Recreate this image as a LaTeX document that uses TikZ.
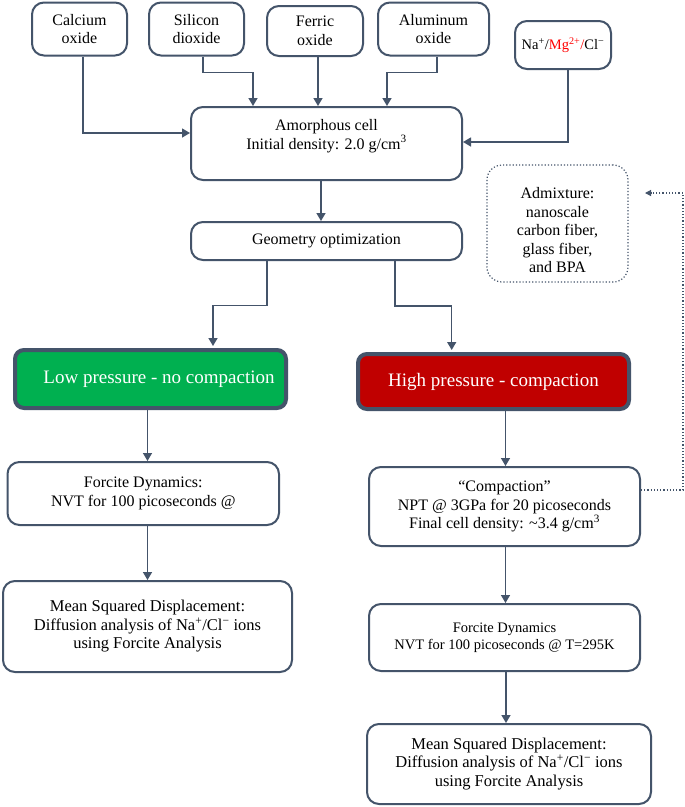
\documentclass[tikz,border=0pt]{standalone}
\usepackage{fontspec}
\setmainfont{Liberation Serif}
\usetikzlibrary{arrows.meta}
\definecolor{bc}{HTML}{44546A}
\definecolor{gr}{HTML}{00B050}
\definecolor{rd}{HTML}{C00000}
\definecolor{redtxt}{HTML}{FF0000}
\tikzset{
  box/.style={draw=bc, line width=2pt, rounded corners=12pt, fill=white, align=center,
    inner sep=0pt, font=\fontsize{16}{18.5}\selectfont},
  lbl/.style={align=center, inner sep=0pt, font=\fontsize{16}{18.5}\selectfont},
  hdr/.style={draw=bc, line width=4pt, rounded corners=9pt, text=white, inner sep=0pt,
    font=\fontsize{19}{22}\selectfont},
  conn/.style={draw=bc, line width=1.4pt, -{Triangle[length=8pt,width=9pt]}},
  dotbox/.style={draw=bc, line width=1.2pt, dotted, rounded corners=15pt},
  dotconn/.style={draw=bc, line width=1.2pt, dotted, -{Triangle[length=6pt,width=6pt]}},
}
\begin{document}
\begin{tikzpicture}[x=1pt,y=-1pt]
\fill[white] (0,0) rectangle (685,807);
\useasboundingbox (0,0) rectangle (685,807);

% top inputs
\node[box, minimum width=95pt, minimum height=53pt] (calc) at (79.5,29) {Calcium\\oxide};
\node[box, minimum width=95pt, minimum height=53pt] (sil) at (196.5,29) {Silicon\\dioxide};
\node[box, minimum width=96pt, minimum height=50pt] (fer) at (315,31) {Ferric\\oxide};
\node[box, minimum width=111pt, minimum height=53pt] (alu) at (433.5,29) {Aluminum\\oxide};
\node[box, minimum width=96pt, minimum height=48pt, font=\fontsize{14.5}{17}\selectfont] (na) at (563,45)
  {Na\textsuperscript{+}/\textcolor{redtxt}{Mg\textsuperscript{2+}/}Cl\textsuperscript{−}};

% main chain
\node[box, minimum width=271pt, minimum height=73pt,
  label={[lbl,yshift=7.5pt]center:{Amorphous cell\\Initial density: 2.0 g/cm\textsuperscript{3}}}] (amor) at (326.5,143.5) {};
\node[box, minimum width=271pt, minimum height=38pt] (geo) at (326.5,241) {Geometry optimization};

\node[dotbox, minimum width=141pt, minimum height=117pt,
  label={[lbl,yshift=-7pt]center:{Admixture:\\nanoscale\\carbon fiber,\\glass fiber,\\and BPA}}] (admix) at (557.5,223.5) {};

\node[hdr, fill=gr, minimum width=271pt, minimum height=58pt,
  label={[lbl,text=white,font=\fontsize{19}{22}\selectfont,xshift=8.5pt]center:{Low pressure - no compaction}}] (low) at (150.5,379) {};
\node[hdr, fill=rd, minimum width=271pt, minimum height=55pt] (high) at (493.5,381.5) {High pressure - compaction};

\node[box, minimum width=271.5pt, minimum height=63pt] (lfd) at (143.25,493.5)
  {Forcite Dynamics:\\NVT for 100 picoseconds @};
\node[box, minimum width=271pt, minimum height=79pt] (comp) at (504.5,506.5)
  {“Compaction”\\NPT @ 3GPa for 20 picoseconds\\Final cell density: \textasciitilde3.4 g/cm\textsuperscript{3}};

\node[box, minimum width=289pt, minimum height=91pt, font=\fontsize{16.5}{18.5}\selectfont] (lmsd) at (147.5,626.5)
  {Mean Squared Displacement:\\Diffusion analysis of Na\textsuperscript{+}/Cl\textsuperscript{−} ions\\using Forcite Analysis};
\node[box, minimum width=271pt, minimum height=67pt, font=\fontsize{14.5}{17}\selectfont] (rfd) at (504.5,637.5)
  {Forcite Dynamics\\NVT for 100 picoseconds @ T=295K};
\node[box, minimum width=284pt, minimum height=80pt, font=\fontsize{16.5}{18.5}\selectfont] (rmsd) at (509,764)
  {Mean Squared Displacement:\\Diffusion analysis of Na\textsuperscript{+}/Cl\textsuperscript{−} ions\\using Forcite Analysis};

% connectors
\draw[conn] ([xshift=3.5pt]calc.south) |- ([yshift=10.5pt]amor.west);
\draw[conn] ([xshift=6.5pt]sil.south) -- ++(0,16) -| ([xshift=-73.5pt]amor.north);
\draw[conn] ([xshift=3pt]fer.south) -- ([xshift=-8.5pt]amor.north);
\draw[conn] ([xshift=3.5pt]alu.south) -- ++(0,16) -| ([xshift=60.5pt]amor.north);
\draw[conn] ([xshift=5pt]na.south) |- ([yshift=1.5pt]amor.east);
\draw[conn] ([xshift=-5.5pt]amor.south) -- ([xshift=-5.5pt]geo.north);
\draw[conn, shorten >=2pt] ([xshift=-59.5pt]geo.south) -- ++(0,44.5) -| ([xshift=62.5pt]low.north);
\draw[conn, shorten >=2pt] ([xshift=68.5pt]geo.south) -- ++(0,45) -| ([xshift=-41.8pt]high.north);
\draw[conn] ([xshift=-3pt]low.south) -- ([xshift=4.25pt]lfd.north);
\draw[conn] ([xshift=12pt]high.south) -- ([xshift=1pt]comp.north);
\draw[conn] ([xshift=4.25pt]lfd.south) -- ([xshift=0pt]lmsd.north);
\draw[conn] ([xshift=1pt]comp.south) -- ([xshift=1pt]rfd.north);
\draw[conn] ([xshift=1.5pt]rfd.south) -- ([xshift=-3pt]rmsd.north);

\coordinate (dtop) at (683,193);
\coordinate (dend) at (645,193);
\draw[dotconn] ([yshift=16.5pt]comp.east) -| (dtop) -- (dend);
\end{tikzpicture}
\end{document}
